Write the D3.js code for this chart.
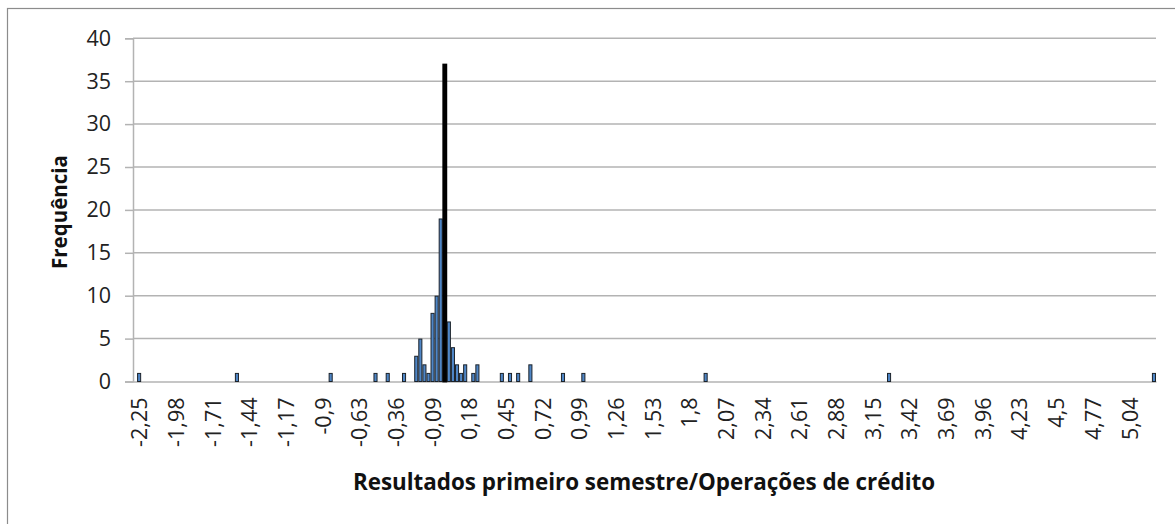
<!DOCTYPE html>
<html>
<head>
<meta charset="utf-8">
<script src="https://cdn.jsdelivr.net/npm/d3@7"></script>
<style>
  body { margin: 0; background: #fff; }
  svg { display: block; font-family: "Open Sans", sans-serif; }
</style>
</head>
<body>
<div id="app"></div>
<script>
// DATA
// bins of width 0.03, centred on these values (only the non-empty ones)
const binStart = -2.28;
const binWidth = 0.03;
const binLast = 5.22;
const binValues = [-2.25, -1.53, -0.84, -0.51, -0.42, -0.30,
  -0.21, -0.18, -0.15, -0.12, -0.09, -0.06, -0.03, 0.00, 0.03, 0.06, 0.09, 0.12, 0.15, 0.21, 0.24,
  0.42, 0.48, 0.54, 0.63, 0.87, 1.02, 1.92, 3.27, 5.22];
const counts = [1, 1, 1, 1, 1, 1,
  3, 5, 2, 1, 8, 10, 19, 37, 7, 4, 2, 1, 2, 1, 2,
  1, 1, 1, 2, 1, 1, 1, 1, 1];
const tickValues = [-2.25, -1.98, -1.71, -1.44, -1.17, -0.9, -0.63, -0.36, -0.09, 0.18, 0.45,
  0.72, 0.99, 1.26, 1.53, 1.8, 2.07, 2.34, 2.61, 2.88, 3.15, 3.42, 3.69, 3.96, 4.23, 4.5, 4.77, 5.04];
const tickLabels = ['-2,25', '-1,98', '-1,71', '-1,44', '-1,17', '-0,9', '-0,63', '-0,36', '-0,09', '0,18', '0,45',
  '0,72', '0,99', '1,26', '1,53', '1,8', '2,07', '2,34', '2,61', '2,88', '3,15', '3,42', '3,69', '3,96', '4,23', '4,5', '4,77', '5,04'];
const yTicks = [0, 5, 10, 15, 20, 25, 30, 35, 40];

// VARS
const width = 1175;
const height = 524;
const plotLeft = 133, plotRight = 1156, plotTop = 38.3, plotBottom = 381.5;
const grey = '#b3b3b3';

const svg = d3.select('#app').append('svg')
  .attr('width', width)
  .attr('height', height);

// chart frame
svg.append('rect')
  .attr('x', 7.5).attr('y', 8.5)
  .attr('width', 1300).attr('height', 700)
  .attr('fill', '#fff')
  .attr('stroke', '#8c8c8c')
  .attr('stroke-width', 1.2);

const x = d3.scaleLinear()
  .domain([binStart - binWidth / 2, binLast + binWidth / 2])
  .range([plotLeft, plotRight]);

const y = d3.scaleLinear()
  .domain([0, 40])
  .range([plotBottom, plotTop]);

// gridlines
svg.append('g')
  .selectAll('line')
  .data(yTicks.slice(1))
  .enter()
  .append('line')
    .attr('x1', plotLeft).attr('x2', plotRight)
    .attr('y1', d => y(d)).attr('y2', d => y(d))
    .attr('stroke', grey)
    .attr('stroke-width', 1.5);

// y axis
const yAxis = svg.append('g')
  .attr('transform', `translate(${plotLeft},0)`)
  .call(d3.axisLeft(y).tickValues(yTicks).tickSize(8).tickPadding(14));
yAxis.select('.domain').attr('stroke', grey).attr('stroke-width', 1.5);
yAxis.selectAll('.tick line').attr('stroke', grey).attr('stroke-width', 1.5);
yAxis.selectAll('.tick text')
  .attr('font-size', '21.5px')
  .attr('font-family', '"Open Sans", sans-serif')
  .attr('fill', '#222');

// x axis
const xAxis = svg.append('g')
  .attr('transform', `translate(0,${plotBottom})`)
  .call(d3.axisBottom(x)
    .tickValues(tickValues)
    .tickFormat((d, i) => tickLabels[i])
    .tickSize(0));
xAxis.select('.domain').attr('stroke', grey).attr('stroke-width', 1.5);
xAxis.selectAll('.tick text')
  .attr('font-size', '21.5px')
  .attr('font-family', '"Open Sans", sans-serif')
  .attr('fill', '#222')
  .attr('text-anchor', 'end')
  .attr('transform', 'rotate(-90)')
  .attr('x', -16)
  .attr('y', 0)
  .attr('dy', '0.35em');

// bars
const maxCount = d3.max(counts);
svg.append('g')
  .selectAll('rect')
  .data(binValues)
  .enter()
  .append('rect')
    .attr('x', d => x(d - binWidth / 2) + 0.5)
    .attr('width', d => x(d + binWidth / 2) - x(d - binWidth / 2) - 1)
    .attr('y', (d, i) => y(counts[i]) + 0.5)
    .attr('height', (d, i) => y(0) - y(counts[i]) - 0.5)
    .attr('fill', (d, i) => counts[i] === maxCount ? '#000' : '#4f86c6')
    .attr('stroke', (d, i) => counts[i] === maxCount ? '#000' : '#1c232b')
    .attr('stroke-width', (d, i) => counts[i] === maxCount ? 1.8 : 1);

// axis titles
svg.append('text')
  .attr('x', 644)
  .attr('y', 490)
  .attr('text-anchor', 'middle')
  .attr('font-size', '22.4px')
  .attr('font-weight', 'bold')
  .attr('fill', '#111')
  .text('Resultados primeiro semestre/Operações de crédito');

svg.append('text')
  .attr('transform', 'translate(67,212) rotate(-90)')
  .attr('text-anchor', 'middle')
  .attr('font-size', '20.5px')
  .attr('font-weight', 'bold')
  .attr('fill', '#111')
  .text('Frequência');
</script>
</body>
</html>
